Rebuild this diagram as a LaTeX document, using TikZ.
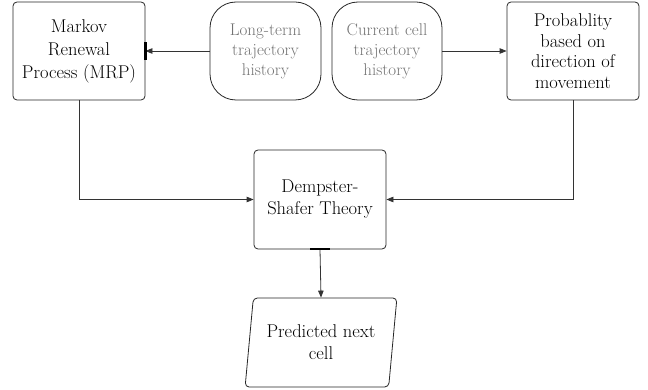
\documentclass[tikz,border=0pt]{standalone}
\usetikzlibrary{arrows.meta,shapes.geometric}
\begin{document}
\begin{tikzpicture}[x=1pt,y=-1pt,
  proc/.style={draw=black!85, line width=0.8pt, rounded corners=4pt, align=center,
    minimum width=132pt, minimum height=98pt, inner sep=2pt, text=black,
    font=\fontsize{18.5}{23}\selectfont},
  hist/.style={draw=black!85, line width=0.8pt, rounded corners=26pt, align=center,
    minimum height=98pt, inner sep=2pt, text=black!55,
    font=\fontsize{17}{20}\selectfont},
  outp/.style={draw=black!85, line width=0.8pt, rounded corners=4pt, align=center,
    trapezium, trapezium left angle=80, trapezium right angle=100, trapezium stretches=true,
    minimum height=89pt, minimum width=152pt, inner sep=2pt, text=black,
    font=\fontsize{18.5}{22}\selectfont},
  conn/.style={draw=black!80, line width=0.8pt, -{Triangle[length=7pt,width=5.5pt]}},
  bar/.style={line width=2.2pt, black}
]
\useasboundingbox (0,0) rectangle (648,390);
\node[proc] (mrp) at (79,51) {Markov\\Renewal\\Process (MRP)};
\node[hist, minimum width=111pt] (lt) at (265.5,51) {Long-term\\trajectory\\history};
\node[hist, minimum width=110pt] (cc) at (387,51) {Current cell\\trajectory\\history};
\node[proc, font=\fontsize{18.5}{20.5}\selectfont] (pb) at (573,51) {Probablity\\based on\\direction of\\movement};
\node[proc, minimum height=99pt, font=\fontsize{18.5}{22}\selectfont] (ds) at (320,199.5) {Dempster-\\Shafer Theory};
\node[outp] (pn) at (321,342.5) {Predicted next\\cell};

\draw[conn] (lt.west) -- (mrp.east);
\draw[conn] (cc.east) -- (pb.west);
\draw[conn] (mrp.south) |- (ds.west);
\draw[conn] (pb.south) |- (ds.east);
\draw[conn] (ds.south) -- (pn.north);
\draw[bar] ([yshift=-9pt]mrp.east) -- ([yshift=9pt]mrp.east);
\draw[bar] ([xshift=-10pt]ds.south) -- ([xshift=10pt]ds.south);
\end{tikzpicture}
\end{document}
